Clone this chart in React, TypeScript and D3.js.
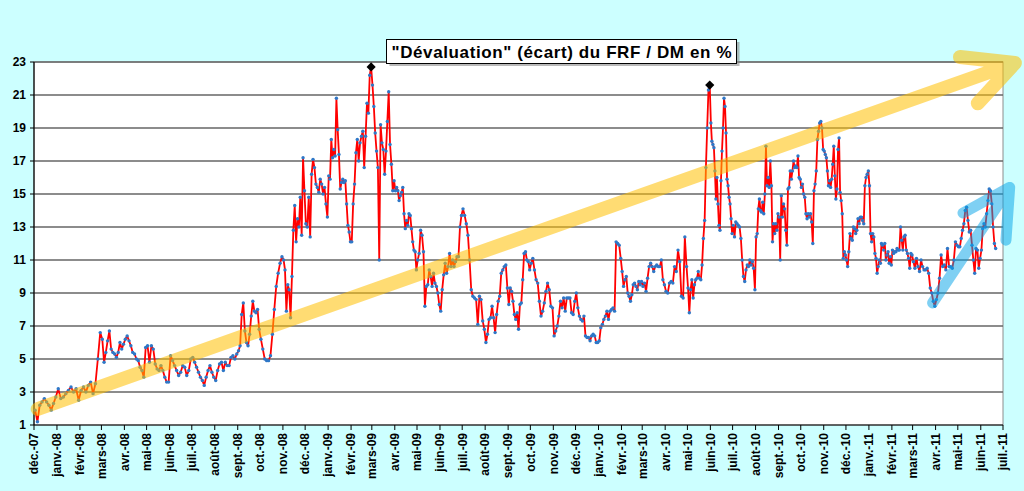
import * as d3 from 'd3';

// French month abbreviations used by the category axis
const monthNames = ['janv.', 'févr.', 'mars', 'avr.', 'mai', 'juin', 'juil.', 'août', 'sept.', 'oct.', 'nov.', 'déc.'];
const yTicks = [1, 3, 5, 7, 9, 11, 13, 15, 17, 19, 21, 23];

// Readings, one inner array per month (points spread evenly across that month)
const y2007 = [
  [1.9, 1.2, 2.2, 2.4, 2.6, 2.4, 2.2, 1.9, 2.3, 2.7]
];
const y2008 = [
  [3.2, 2.6, 2.7, 2.9, 3.1, 3.3, 3.0, 3.2, 2.5],
  [3.1, 3.3, 3.0, 3.4, 3.6, 2.9, 3.5, 5.0, 6.6],
  [6.2, 4.8, 5.4, 6.1, 6.7, 5.6, 5.4, 5.3, 5.1, 5.4, 6.0, 5.6, 5.9],
  [6.2, 6.4, 6.1, 5.8, 5.4, 5.3, 5.0, 4.9, 4.5, 4.3, 3.9, 5.7],
  [5.8, 4.8, 5.8, 5.6, 4.7, 4.4, 4.3, 4.6, 4.3, 3.9, 3.6, 3.6],
  [5.2, 4.9, 4.6, 4.3, 4.0, 4.2, 4.6, 4.5, 4.0, 4.3, 5.0],
  [5.1, 4.8, 4.5, 4.2, 3.9, 3.7, 3.4, 3.9, 4.3, 4.6, 4.2, 3.9],
  [3.7, 4.3, 4.7, 4.8, 4.3, 4.8, 4.6, 4.6, 5.1, 5.2, 5.0, 5.3],
  [5.5, 5.8, 7.7, 8.4, 6.7, 6.0, 5.8, 6.5, 7.6, 8.5, 7.9, 7.8, 8.0, 6.8],
  [6.2, 5.6, 5.0, 4.9, 4.9, 5.2, 6.5, 8.0, 9.4, 10.2, 10.8, 11.2],
  [11.0, 10.4, 7.9, 9.5, 9.2, 7.5, 10.0, 12.8, 14.3, 12.1, 13.5, 13.0, 14.8, 12.5, 17.2, 15.2],
  [13.2, 13.0, 14.8, 12.4, 16.2, 17.1, 16.6, 15.6, 15.4, 15.1, 15.9, 15.6, 15.0, 15.4, 14.4, 13.6]
];
const y2009 = [
  [16.1, 15.9, 18.3, 17.2, 17.7, 17.3, 20.8, 18.9, 17.4, 15.3, 15.7, 15.9, 15.7, 15.8, 14.4, 13.1, 12.7, 12.1],
  [12.1, 14.4, 15.6, 17.5, 18.3, 17.0, 18.1, 18.5, 18.8, 16.6, 18.5, 20.5, 19.9, 22.2, 22.7],
  [21.6, 20.3, 18.7, 17.6, 16.6, 11.0, 19.2, 18.1, 17.7, 16.2, 17.6, 19.4, 21.2, 18.0, 16.8, 15.2, 15.8],
  [15.2, 15.4, 15.2, 14.6, 14.9, 15.1, 15.4, 13.8, 12.9, 13.4, 13.1, 13.8, 13.7, 12.9, 12.1, 11.6, 11.5, 10.4],
  [11.0, 11.4, 12.8, 12.5, 11.5, 8.2, 9.4, 9.5, 10.4, 10.0, 9.4, 10.2, 9.6, 9.4, 9.0, 8.3],
  [7.9, 9.2, 10.1, 10.8, 10.2, 10.6, 11.4, 10.6, 11.0, 10.6, 10.9, 11.2, 11.2, 13.0, 13.7],
  [14.1, 13.7, 13.2, 12.5, 11.0, 9.2, 8.8, 8.7, 8.6, 7.1, 8.8, 8.6, 7.3, 6.8],
  [6.0, 6.5, 7.4, 7.5, 8.2, 7.5, 6.6, 7.7, 8.5, 8.8, 10.2, 10.4, 10.6, 10.7, 9.3],
  [8.3, 9.3, 9.1, 8.5, 7.7, 7.4, 7.8, 6.8, 8.3, 8.4, 9.8, 11.4, 11.5, 11.0, 10.9, 10.4],
  [10.8, 11.1, 10.4, 9.8, 9.6, 8.5, 7.6, 7.9, 8.4, 9.1, 9.6, 9.2, 8.2, 8.1],
  [6.4, 6.7, 7.0, 7.6, 8.5, 8.1, 8.7, 7.9, 8.7, 8.7, 8.7, 7.8, 7.7, 8.5],
  [9.0, 8.1, 7.6, 7.4, 7.3, 7.6, 6.4, 6.3, 6.3, 6.1, 6.4, 6.5, 6.4, 6.0, 6.0]
];
const y2010 = [
  [6.1, 6.9, 7.1, 7.4, 7.6, 7.9, 7.4, 7.9, 8.0, 8.1, 7.9, 12.1, 12.0, 11.9, 11.1],
  [10.3, 9.4, 9.8, 10.0, 9.0, 8.8, 8.5, 8.9, 9.5, 9.6, 9.4, 9.2, 9.7, 9.5, 9.7],
  [9.4, 9.6, 9.1, 9.9, 10.6, 10.8, 10.6, 10.3, 10.6, 10.7, 10.6, 10.6, 11.0, 9.8, 9.5],
  [9.1, 9.0, 9.6, 9.7, 9.6, 10.6, 10.3, 11.6, 10.9, 8.8, 8.7, 12.4, 10.6],
  [9.3, 7.8, 9.2, 9.8, 8.7, 9.5, 9.8, 9.9, 10.3, 9.9, 9.8, 10.7, 12.3, 13.4, 16.6, 19.0, 21.3, 21.6],
  [19.3, 18.2, 18.0, 17.8, 16.4, 14.7, 16.0, 14.4, 13.1, 12.8, 15.8, 17.6, 19.0, 20.8, 20.3, 18.7, 15.9, 15.5, 14.8, 14.4, 13.5, 12.6],
  [13.1, 12.4, 13.3, 13.2, 13.1, 13.0, 12.3, 11.0, 10.0, 9.7, 10.4, 10.7, 10.6, 11.0, 10.7, 10.9, 10.5, 9.2],
  [12.4, 12.6, 14.1, 14.7, 14.0, 13.9, 14.5, 13.8, 15.0, 17.9, 15.5, 16.0, 15.4, 17.0, 15.5, 12.1, 13.2, 12.6, 13.2, 12.8, 13.8],
  [13.6, 11.0, 14.9, 13.6, 14.4, 14.1, 12.8, 11.9, 15.3, 15.4, 16.4, 15.9, 16.4, 17.0, 16.6, 16.7, 16.6, 17.3, 16.0, 15.9],
  [15.4, 15.6, 15.0, 14.8, 13.8, 13.5, 13.8, 13.6, 13.8, 13.3, 12.0, 15.2, 15.6, 16.4, 18.3, 18.8, 19.3, 19.4, 19.0, 17.7],
  [17.6, 17.4, 17.2, 16.4, 15.5, 15.8, 15.4, 15.9, 16.8, 17.9, 16.1, 14.7, 15.3, 17.7, 18.4, 15.1, 14.6, 13.8, 11.1, 11.5, 11.3],
  [11.0, 10.6, 11.5, 12.6, 12.3, 12.2, 13.0, 12.9, 12.6, 12.8, 13.5, 13.2, 13.6, 13.6, 13.4, 13.2, 15.5, 16.0, 16.2, 16.4]
];
const y2011 = [
  [15.5, 12.6, 12.1, 12.6, 12.4, 11.4, 11.1, 10.2, 10.6, 11.0, 10.8, 12.0, 11.9, 11.6, 12.0, 11.0, 11.3, 11.5, 10.8, 11.2, 10.7],
  [11.6, 11.4, 11.5, 11.5, 11.7, 11.6, 11.6, 13.0, 12.2, 11.6, 12.4, 12.5, 11.6, 11.4, 11.1, 10.5, 11.4, 11.3],
  [10.9, 10.5, 11.1, 10.6, 10.3, 11.0, 10.6, 10.4, 10.4, 10.5, 10.2, 9.3, 9.0, 8.5, 8.2],
  [8.6, 9.0, 9.9, 11.3, 10.6, 10.7, 10.4, 11.7, 10.6, 10.6, 10.5, 11.0, 12.1, 11.9],
  [11.8, 11.8, 12.3, 12.8, 13.2, 14.0, 14.2, 13.4, 12.7, 12.8, 11.9, 11.0, 10.2, 11.7, 11.6, 10.5, 11.1],
  [11.6, 12.9, 13.2, 13.0, 13.8, 14.6, 15.3, 15.2, 14.4, 13.0, 12.0, 11.7]
];

const series = [
  { year: 2007, firstMonth: 11, months: y2007 },
  { year: 2008, firstMonth: 0, months: y2008 },
  { year: 2009, firstMonth: 0, months: y2009 },
  { year: 2010, firstMonth: 0, months: y2010 },
  { year: 2011, firstMonth: 0, months: y2011 }
];
const dataEnd = '2011-06-22';
const peakYears = [2009, 2010];

// trend arrows (date, value): tail, tip, then the two head strokes
const yellowArrow: [string, number][] = [['2007-12-06', 1.97], ['2011-07-17', 22.94], ['2011-05-04', 23.3], ['2011-05-28', 20.5]];
const blueArrow: [string, number][] = [['2011-03-28', 8.4], ['2011-07-10', 15.4], ['2011-05-08', 13.85], ['2011-07-05', 12.2]];

const title = '"Dévaluation" (écart) du FRF / DM en %';

interface Pt {
  date: Date;
  value: number;
}

const parse = d3.timeParse('%Y-%m-%d');

function buildPoints(): Pt[] {
  const pts: Pt[] = [];
  const endAll = parse(dataEnd)!;
  series.forEach(({ year, firstMonth, months }) => {
    months.forEach((vals, i) => {
      const start = new Date(year, firstMonth + i, 1);
      let end = new Date(year, firstMonth + i + 1, 1);
      if (end > endAll) end = endAll;
      const span = end.getTime() - start.getTime();
      vals.forEach((v, j) => {
        pts.push({ date: new Date(start.getTime() + (span * (j + 0.5)) / vals.length), value: v });
      });
    });
  });
  return pts;
}

const font = 'Arial, "Liberation Sans", sans-serif';

export default function App() {
  const width = 1024;
  const height = 491;
  const plot = { left: 34, right: 1003, top: 62, bottom: 425 };

  const x = d3
    .scaleTime()
    .domain([new Date(2007, 11, 1), new Date(2011, 6, 1)])
    .range([plot.left, plot.right]);
  const y = d3.scaleLinear().domain([1, 23]).range([plot.bottom, plot.top]);

  const points = buildPoints();
  const line = d3
    .line<Pt>()
    .x((d) => x(d.date))
    .y((d) => y(d.value));

  const peaks = peakYears.map(
    (yr) => d3.greatest(points.filter((p) => p.date.getFullYear() === yr), (p) => p.value)!
  );

  const monthTicks = x.ticks(d3.timeMonth.every(1)!);
  const monthLabel = (d: Date) => `${monthNames[d.getMonth()]}-${String(d.getFullYear()).slice(2)}`;

  const arrowPath = (a: [string, number][]) => {
    const pt = a.map(([d, v]) => [x(parse(d)!), y(v)] as [number, number]);
    const l = d3.line();
    return `${l([pt[0], pt[1]])}${l([pt[2], pt[1], pt[3]])}`;
  };

  const diamond = d3.symbol(d3.symbolSquare, 42)()!;

  return (
    <svg
      width={width}
      height={height}
      style={{ position: 'absolute', left: 0, top: 0, display: 'block' }}
      fontFamily={font}
    >
      <rect x={0} y={0} width={width} height={height} fill="#CCFFFF" />
      <rect
        x={plot.left}
        y={plot.top}
        width={plot.right - plot.left}
        height={plot.bottom - plot.top}
        fill="#ffffff"
        stroke="#8c8c8c"
        strokeWidth={1}
      />

      {/* horizontal grid */}
      {yTicks.map((t) => (
        <line
          key={`g${t}`}
          x1={plot.left}
          x2={plot.right}
          y1={y(t)}
          y2={y(t)}
          stroke={t === 1 ? '#000' : '#666666'}
          strokeWidth={t === 1 ? 1.2 : 1.5}
        />
      ))}

      {/* y axis */}
      <line x1={plot.left} x2={plot.left} y1={plot.top} y2={plot.bottom} stroke="#000" strokeWidth={1.2} />
      {yTicks.map((t) => (
        <g key={`y${t}`} transform={`translate(0,${y(t)})`}>
          <line x1={plot.left - 4} x2={plot.left} stroke="#000" />
          <text x={26} dy="0.36em" textAnchor="end" fontSize={12} fontWeight="bold" fill="#000">
            {t}
          </text>
        </g>
      ))}

      {/* x axis */}
      {monthTicks.map((d) => (
        <g key={d.toISOString()} transform={`translate(${x(d)},0)`}>
          <line y1={plot.bottom} y2={plot.bottom + 5} stroke="#000" />
          <text
            transform={`translate(0,${plot.bottom + 8}) rotate(-90)`}
            dy="0.36em"
            textAnchor="end"
            fontSize={12}
            fontWeight="bold"
            fill="#000"
          >
            {monthLabel(d)}
          </text>
        </g>
      ))}

      {/* series */}
      <path d={line(points)!} fill="none" stroke="#FF0000" strokeWidth={1.8} strokeLinejoin="round" />
      {points.map((p, i) => (
        <circle key={i} cx={x(p.date)} cy={y(p.value)} r={1.7} fill="#2E78C8" />
      ))}
      {peaks.map((p, i) => (
        <path
          key={`pk${i}`}
          d={diamond}
          transform={`translate(${x(p.date)},${y(p.value)}) rotate(45)`}
          fill="#000"
        />
      ))}

      {/* trend arrows */}
      <g opacity={0.55}>
        <path
          d={arrowPath(yellowArrow)}
          fill="none"
          stroke="#FFC000"
          strokeWidth={14}
          strokeLinecap="round"
          strokeLinejoin="round"
        />
      </g>
      <g opacity={0.5}>
        <path
          d={arrowPath(blueArrow)}
          fill="none"
          stroke="#00A2E8"
          strokeWidth={11}
          strokeLinecap="round"
          strokeLinejoin="round"
        />
      </g>

      {/* title */}
      <rect x={389.5} y={42} width={350} height={24} fill="#8a8a8a" opacity={0.6} />
      <rect x={386.5} y={39.5} width={350} height={24} fill="#ffffff" stroke="#000" strokeWidth={1} />
      <text
        x={561.5}
        y={57.5}
        textAnchor="middle"
        fontSize={17}
        fontWeight="bold"
        fill="#000"
        textLength={340}
        lengthAdjust="spacing"
      >
        {title}
      </text>
    </svg>
  );
}
